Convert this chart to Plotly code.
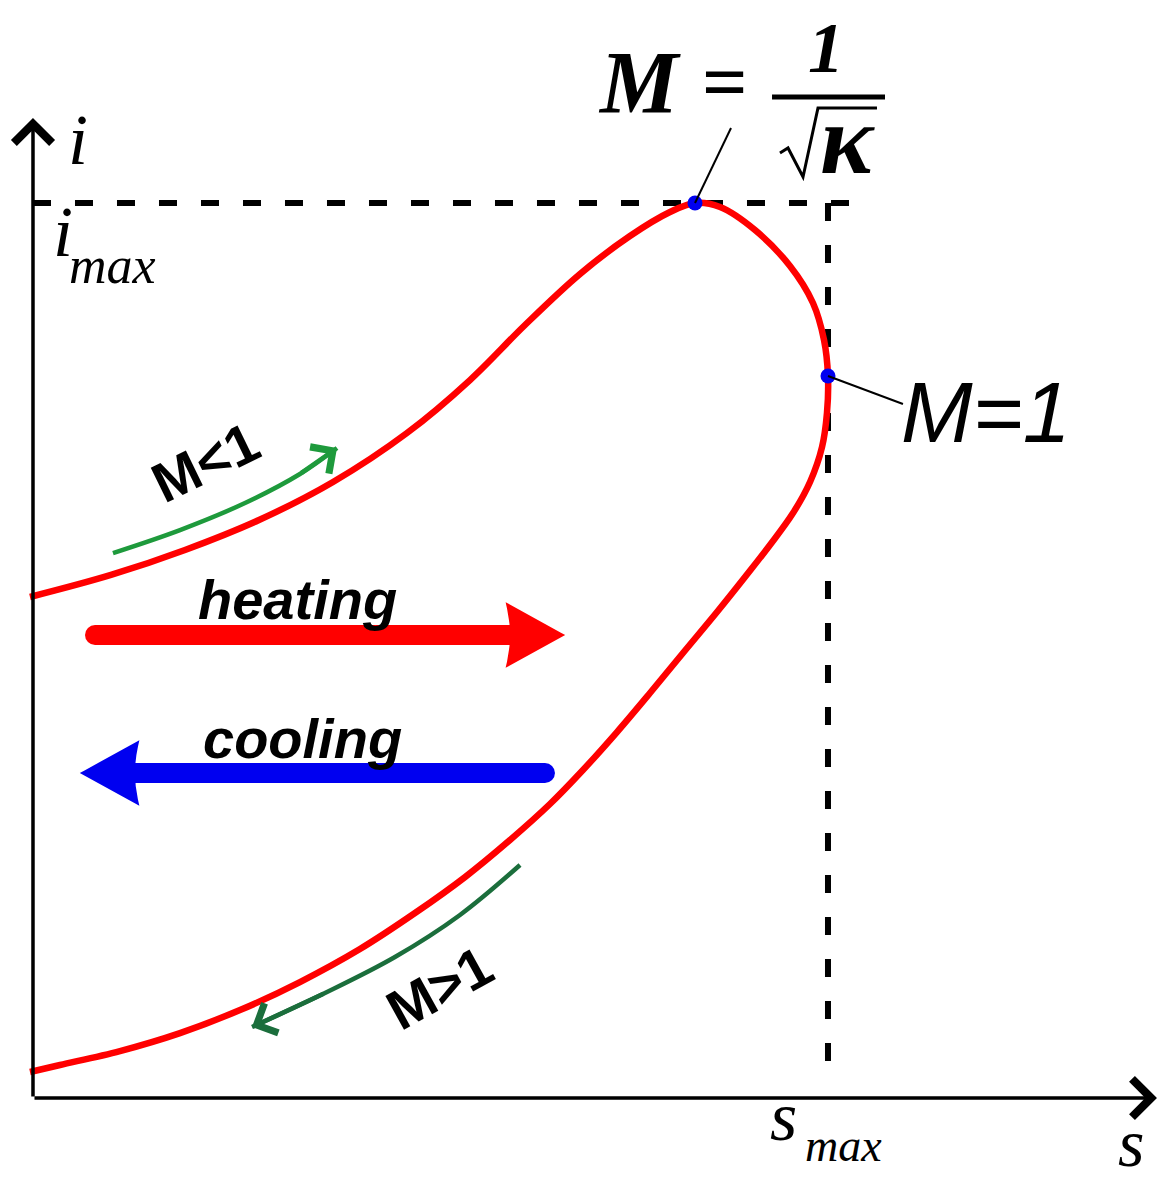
import plotly.graph_objects as go

# Rayleigh line in the (s, i) plane, both coordinates normalised by s_max and i_max
# subsonic branch, from the inlet up over the i_max point to the s_max point
S_UPPER = [-0.0038, 0.0981, 0.1912, 0.2843, 0.3774, 0.4704, 0.5497, 0.6189, 0.6881,
           0.7509, 0.8013, 0.8327, 0.8642, 0.9082, 0.9522, 0.9811, 0.9950, 1.0000]
I_UPPER = [0.5598, 0.5844, 0.6123, 0.6458, 0.6883, 0.7430, 0.8022, 0.8637, 0.9207,
           0.9631, 0.9899, 1.0000, 0.9955, 0.9698, 0.9296, 0.8883, 0.8469, 0.8067]
# supersonic branch, from the s_max point back down to the inlet
S_LOWER = [0.9987, 0.9925, 0.9774, 0.9560, 0.9270, 0.8956, 0.8604, 0.8176, 0.7761,
           0.7346, 0.6918, 0.6503, 0.6000, 0.5434, 0.4805, 0.4113, 0.3358, 0.2604,
           0.1849, 0.1094, 0.0340, -0.0038]
I_LOWER = [0.7654, 0.7274, 0.6883, 0.6536, 0.6179, 0.5821, 0.5430, 0.4972, 0.4525,
           0.4089, 0.3665, 0.3285, 0.2883, 0.2469, 0.2067, 0.1665, 0.1296, 0.0983,
           0.0726, 0.0525, 0.0369, 0.0291]

# characteristic points: maximum enthalpy (M = 1/sqrt(k)) and maximum entropy (M = 1)
S_IMAX, I_IMAX = 0.8327, 1.0000
S_SMAX, I_SMAX = 1.0000, 0.8067

# direction arrows alongside the two branches
S_SUBSONIC = [0.1006, 0.1849, 0.2667, 0.3358, 0.3824]
I_SUBSONIC = [0.6089, 0.6346, 0.6648, 0.6972, 0.7263]
S_SUPERSONIC = [0.6126, 0.5371, 0.4553, 0.3673, 0.2755]
I_SUPERSONIC = [0.2603, 0.2045, 0.1575, 0.1173, 0.0793]

W, H = 1158, 1181
X_RANGE = [-0.0415, 1.4151]
Y_RANGE = [-0.0927, 1.2268]
SX = (X_RANGE[1] - X_RANGE[0]) / W   # data units per pixel, horizontal
SY = (Y_RANGE[1] - Y_RANGE[0]) / H   # data units per pixel, vertical

RED = "#ff0000"
BLUE = "#0000f0"
GREEN = "#1e9a3c"
DARK_GREEN = "#1b6e3c"
SERIF = "Liberation Serif"
SANS = "Liberation Sans"

fig = go.Figure()

# Rayleigh curve
fig.add_trace(go.Scatter(
    x=S_UPPER + S_LOWER, y=I_UPPER + I_LOWER, mode="lines",
    line=dict(color=RED, width=6.5, shape="spline", smoothing=1.0),
    hoverinfo="skip"))

# branch direction arrows
fig.add_trace(go.Scatter(
    x=S_SUBSONIC, y=I_SUBSONIC, mode="lines",
    line=dict(color=GREEN, width=4.5, shape="spline"), hoverinfo="skip"))
fig.add_trace(go.Scatter(
    x=S_SUPERSONIC, y=I_SUPERSONIC, mode="lines",
    line=dict(color=DARK_GREEN, width=4.5, shape="spline"), hoverinfo="skip"))

# characteristic points
fig.add_trace(go.Scatter(
    x=[S_IMAX, S_SMAX], y=[I_IMAX, I_SMAX], mode="markers",
    marker=dict(color=BLUE, size=15), hoverinfo="skip"))

shapes = []
# reference lines for i_max and s_max
shapes.append(dict(type="line", x0=0, y0=I_IMAX, x1=1.048, y1=I_IMAX,
                   line=dict(color="black", width=6, dash="18px,24px"), layer="below"))
shapes.append(dict(type="line", x0=S_SMAX, y0=I_IMAX, x1=S_SMAX, y1=0.0145,
                   line=dict(color="black", width=6, dash="18px,24px"), layer="below"))

# leader lines to the point labels
shapes.append(dict(type="line", x0=S_IMAX, y0=I_IMAX, x1=0.878, y1=1.0838,
                   line=dict(color="black", width=2)))
shapes.append(dict(type="line", x0=S_SMAX, y0=I_SMAX, x1=1.0943, y1=0.7754,
                   line=dict(color="black", width=2)))


def thick_arrow(s_tail, s_tip, i_level, color):
    """Horizontal block arrow with a rounded tail and a triangular head."""
    sign = 1 if s_tip > s_tail else -1
    head_len, head_half, shaft_half = 52 * SX, 27 * SY, 10
    s_base = s_tip - sign * head_len
    shapes.append(dict(type="line", x0=s_tail, y0=i_level, x1=s_base + sign * 2 * SX,
                       y1=i_level, line=dict(color=color, width=2 * shaft_half)))
    shapes.append(dict(type="circle", x0=s_tail - shaft_half * SX, x1=s_tail + shaft_half * SX,
                       y0=i_level - shaft_half * SY, y1=i_level + shaft_half * SY,
                       fillcolor=color, line=dict(width=0)))
    path = (f"M{s_tip - sign * 3 * SX},{i_level} "
            f"L{s_base},{i_level + head_half} "
            f"Q{s_base + sign * 6 * SX},{i_level} {s_base},{i_level - head_half} Z")
    shapes.append(dict(type="path", path=path, fillcolor=color,
                       line=dict(color=color, width=6)))


thick_arrow(0.0780, 0.6654, 0.5173, RED)    # heating
thick_arrow(0.6440, 0.0629, 0.3631, BLUE)   # cooling

# square-root sign of the M = 1/sqrt(k) label
sqrt_s = [0.9396, 0.9497, 0.9686, 0.9874, 1.0616]
sqrt_i = [1.0559, 1.0615, 1.0291, 1.1061, 1.1061]
shapes.append(dict(type="path",
                   path="M" + " L".join(f"{a},{b}" for a, b in zip(sqrt_s, sqrt_i)),
                   line=dict(color="black", width=3)))
# fraction bar
shapes.append(dict(type="line", x0=0.9296, y0=1.1184, x1=1.0717, y1=1.1184,
                   line=dict(color="black", width=5)))

annotations = []


def arrow(x, y, ax, ay, color, width, size):
    annotations.append(dict(x=x, y=y, ax=ax, ay=ay, xref="x", yref="y",
                            axref="x", ayref="y", text="", showarrow=True,
                            arrowhead=4, arrowsize=size, arrowwidth=width,
                            arrowcolor=color, standoff=0))


# coordinate axes
arrow(1.4138, 0, 0, 0, "black", 3.5, 2.1)
arrow(0, 1.095, 0, 0, "black", 3.5, 2.1)
# heads of the branch arrows
arrow(S_SUBSONIC[-1], I_SUBSONIC[-1], S_SUBSONIC[-2], I_SUBSONIC[-2], GREEN, 4.5, 1.4)
arrow(S_SUPERSONIC[-1], I_SUPERSONIC[-1], S_SUPERSONIC[-2], I_SUPERSONIC[-2], DARK_GREEN, 4.5, 1.4)


def label(x, y, text, family, size, style="normal", weight="normal", angle=0):
    annotations.append(dict(x=x, y=y, xref="x", yref="y", text=text, showarrow=False,
                            xanchor="center", yanchor="middle", textangle=angle,
                            font=dict(family=family, size=size, color="black",
                                      style=style, weight=weight)))


label(0.0566, 1.0704, "i", SERIF, 72, style="italic")
label(0.0377, 0.9676, "i", SERIF, 72, style="italic")
label(0.0994, 0.9307, "max", SERIF, 52, style="italic")
label(0.9434, -0.0201, "s", SERIF, 70, style="italic")
label(1.0189, -0.0525, "max", SERIF, 46, style="italic")
label(1.3811, -0.0503, "s", SERIF, 68, style="italic")

label(0.7635, 1.1341, "M", SERIF, 88, style="italic", weight="bold")
label(0.8704, 1.1352, "=", SERIF, 80, weight="bold")
label(0.9975, 1.1732, "1", SERIF, 72, style="italic", weight="bold")
label(1.0239, 1.0715, "κ", SERIF, 100, style="italic", weight="bold")
label(1.1987, 0.7665, "M=1", SANS, 86, style="italic")

label(0.2164, 0.7106, "M<1", SANS, 56, weight="bold", angle=-26)
label(0.5119, 0.1240, "M>1", SANS, 56, weight="bold", angle=-29)
label(0.3321, 0.5575, "heating", SANS, 56, style="italic", weight="bold")
label(0.3396, 0.4022, "cooling", SANS, 56, style="italic", weight="bold")

fig.update_layout(
    width=W, height=H, margin=dict(l=0, r=0, t=0, b=0),
    paper_bgcolor="white", plot_bgcolor="white", showlegend=False,
    xaxis=dict(range=X_RANGE, visible=False, fixedrange=True),
    yaxis=dict(range=Y_RANGE, visible=False, fixedrange=True),
    shapes=shapes, annotations=annotations)

fig.write_html("out.html", config={"displayModeBar": False})
